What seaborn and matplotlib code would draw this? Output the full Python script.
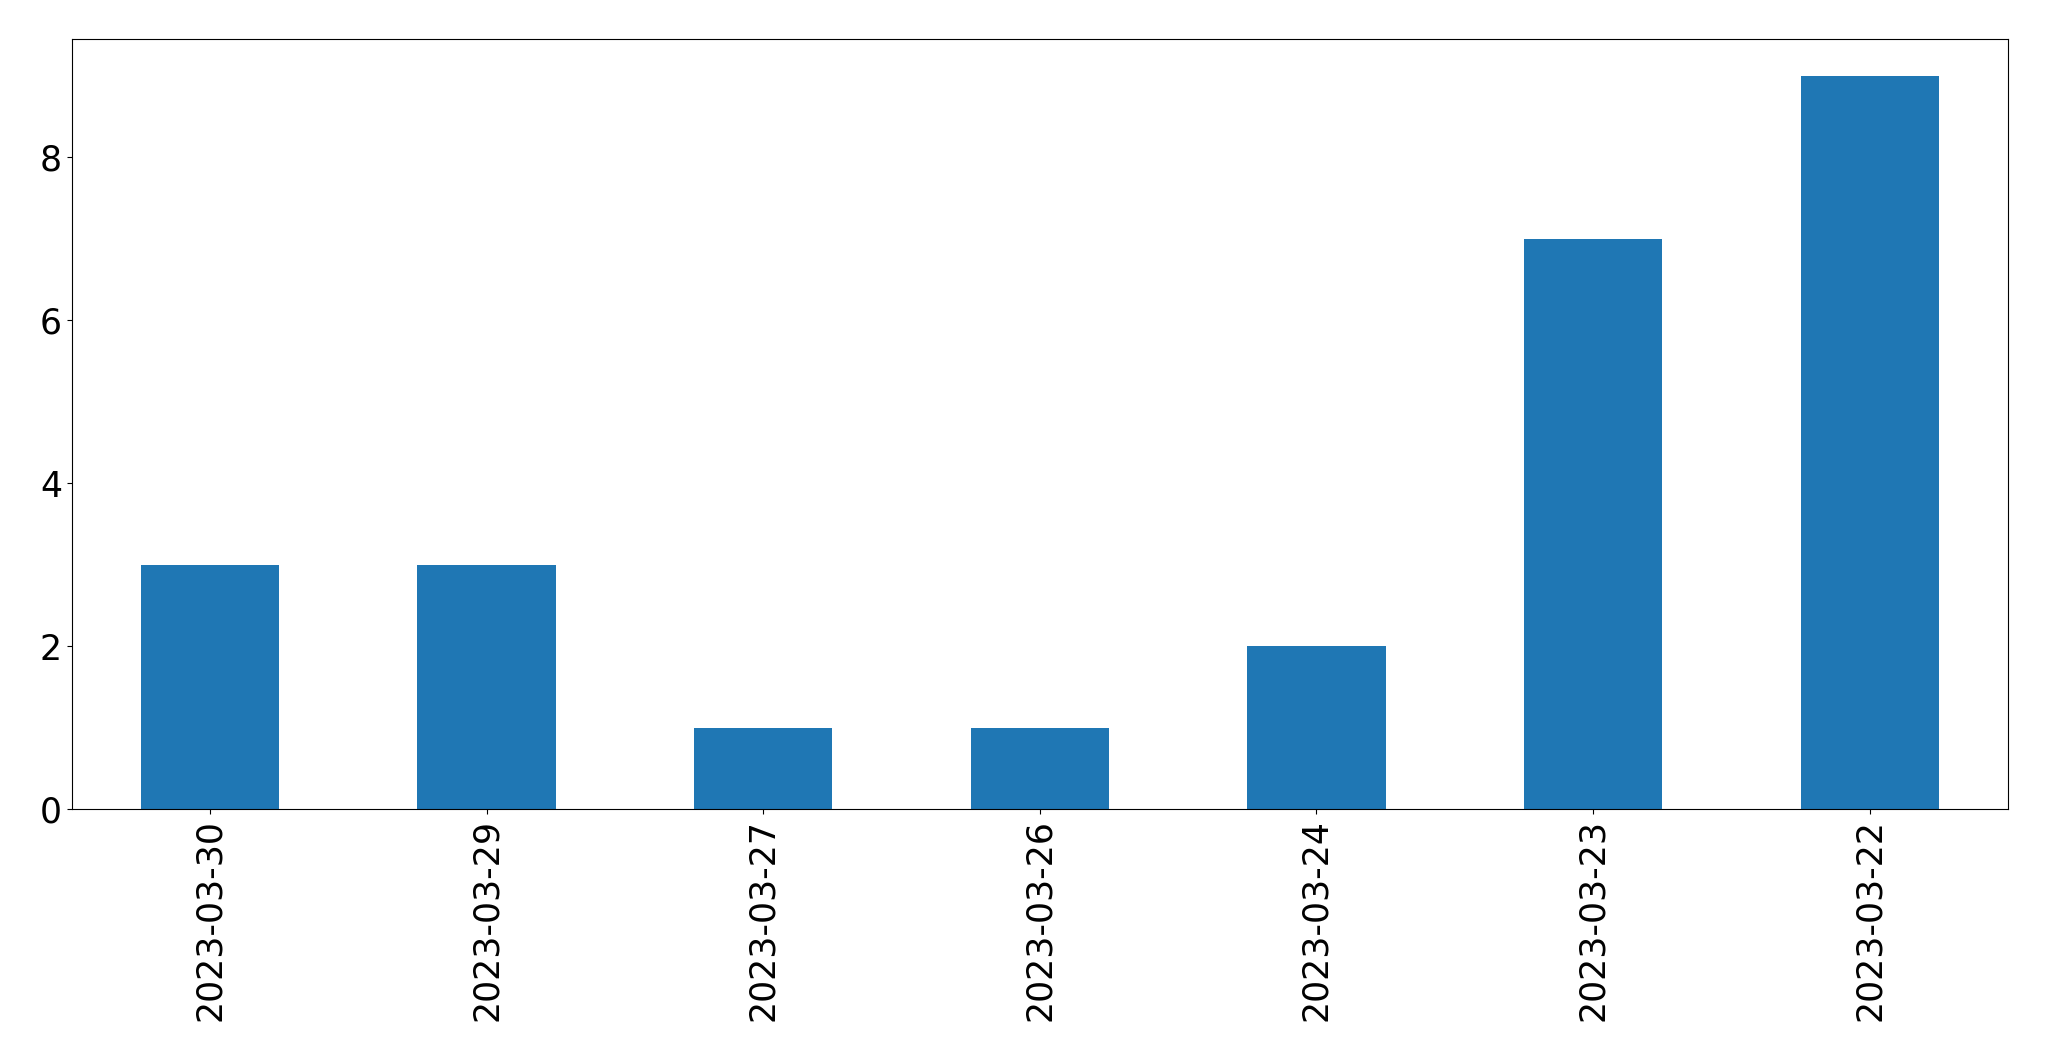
import matplotlib
matplotlib.use("Agg")
import matplotlib.pyplot as plt
import seaborn as sns
import pandas as pd

dates = ["2023-03-30", "2023-03-29", "2023-03-27", "2023-03-26", "2023-03-24", "2023-03-23", "2023-03-22"]
counts = [3, 3, 1, 1, 2, 7, 9]

df = pd.DataFrame({"date": dates, "count": counts})

fig = plt.figure(figsize=(20.49, 10.61), dpi=100)
ax = fig.add_axes([0.035, 0.2375, 0.945, 0.7255])
sns.barplot(data=df, x="date", y="count", color="#1f77b4", saturation=1, width=0.5, ax=ax, order=dates)
ax.set_xlim(-0.5, len(dates) - 0.5)
ax.set_ylim(0, 9.45)
ax.set_xlabel("")
ax.set_ylabel("")
ax.tick_params(axis="both", labelsize=25)
for lbl in ax.get_xticklabels():
    lbl.set_rotation(90)
fig.savefig("out.png", dpi=100)
